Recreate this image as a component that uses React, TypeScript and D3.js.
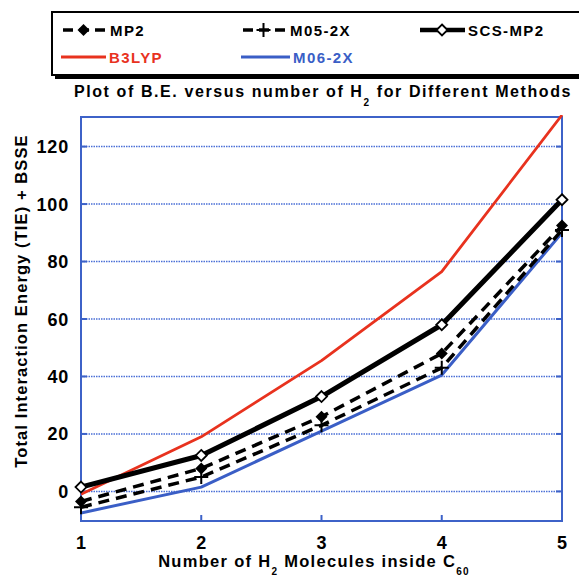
import React from 'react';
import * as d3 from 'd3';

const molecules = [1, 2, 3, 4, 5];
const mp2 = [-3.5, 8, 26, 48, 92.5];
const m052x = [-5.5, 5, 23, 43, 91];
const scsmp2 = [1.5, 12.5, 33, 58, 101.5];
const b3lyp = [-1, 19, 45.5, 76.5, 131];
const m062x = [-7.5, 1.5, 21, 40.5, 90];
const yTicks = [0, 20, 40, 60, 80, 100, 120];

const W = 579;
const H = 579;
const plot = { left: 81, right: 562, top: 117, bottom: 521 };
const axisBlue = '#3d62c8';
const font = '"Liberation Sans", Arial, sans-serif';

const x = d3.scaleLinear().domain([1, 5]).range([plot.left, plot.right]);
const y = d3.scaleLinear().domain([-10.3, 130.3]).range([plot.bottom, plot.top]);

const series = [
  { name: 'MP2', values: mp2, color: '#000', width: 3.5, dash: '11,7', marker: 'filled' },
  { name: 'M05-2X', values: m052x, color: '#000', width: 3.5, dash: '11,7', marker: 'plus' },
  { name: 'SCS-MP2', values: scsmp2, color: '#000', width: 5, dash: null, marker: 'open' },
  { name: 'B3LYP', values: b3lyp, color: '#e8321e', width: 2.8, dash: null, marker: null },
  { name: 'M06-2X', values: m062x, color: '#3a5ec6', width: 3, dash: null, marker: null },
];

const Marker = ({ type, cx, cy }: { type: string | null; cx: number; cy: number }) => {
  if (type === 'filled') {
    return <path d={`M${cx},${cy - 6}L${cx + 6},${cy}L${cx},${cy + 6}L${cx - 6},${cy}Z`} fill="#000" />;
  }
  if (type === 'open') {
    return <path d={`M${cx},${cy - 5.5}L${cx + 5.5},${cy}L${cx},${cy + 5.5}L${cx - 5.5},${cy}Z`} fill="#fff" stroke="#000" strokeWidth={1.8} />;
  }
  if (type === 'plus') {
    return <path d={`M${cx - 7},${cy}H${cx + 7}M${cx},${cy - 7}V${cy + 7}`} stroke="#000" strokeWidth={2} />;
  }
  return null;
};

export default function App() {
  const line = d3.line<number>().x((_, i) => x(molecules[i])).y((d) => y(d));

  const legendItems = [
    { s: series[0], lx: 63, ly: 30, tx: 108 },
    { s: series[1], lx: 243, ly: 30, tx: 288 },
    { s: series[2], lx: 420, ly: 30, tx: 468 },
    { s: series[3], lx: 61, ly: 57, tx: 109 },
    { s: series[4], lx: 241, ly: 57, tx: 293 },
  ];

  return (
    <svg width={W} height={H} style={{ position: 'absolute', left: 0, top: 0, background: '#fff' }} fontFamily={font} fontWeight="bold">
      <defs>
        <clipPath id="clip">
          <rect x={plot.left} y={plot.top - 2} width={plot.right - plot.left + 4} height={plot.bottom - plot.top + 2} />
        </clipPath>
      </defs>

      {/* legend box with shadow */}
      <rect x={55} y={15} width={540} height={64} fill="#000" />
      <rect x={52} y={12} width={538} height={63} fill="#fff" stroke="#000" strokeWidth={2} />
      {legendItems.map(({ s, lx, ly, tx }) => (
        <g key={s.name}>
          <line x1={lx} x2={tx - 3} y1={ly} y2={ly} stroke={s.color} strokeWidth={s.width === 5 ? 4.5 : s.width} strokeDasharray={s.dash ? '10,6' : undefined} />
          <Marker type={s.marker} cx={lx + (tx - lx) / 2 - 2} cy={ly} />
          <text x={tx + (s.dash ? 2 : 0)} y={ly + 5.5} fontSize={15} letterSpacing={1.4} fill={s.color}>
            {s.name}
          </text>
        </g>
      ))}

      {/* title */}
      <text x={323} y={97} fontSize={16} letterSpacing={1.6} textAnchor="middle">
        Plot of B.E. versus number of H<tspan dy={9} fontSize={10}>2</tspan>
        <tspan dy={-9}> for Different Methods</tspan>
      </text>

      {/* grid */}
      {yTicks.map((t) => (
        <g key={t}>
          <line x1={plot.left} x2={plot.right} y1={y(t)} y2={y(t)} stroke="#4a6fd6" strokeWidth={1.5} strokeDasharray="1.5,1" />
          <line x1={plot.left} x2={plot.left + 6} y1={y(t)} y2={y(t)} stroke={axisBlue} strokeWidth={2} />
          <line x1={plot.right - 6} x2={plot.right} y1={y(t)} y2={y(t)} stroke={axisBlue} strokeWidth={2} />
          <text x={plot.left - 12} y={y(t) + 6.5} fontSize={18} letterSpacing={0.8} textAnchor="end">
            {t}
          </text>
        </g>
      ))}
      {molecules.map((m) => (
        <g key={m}>
          <line x1={x(m)} x2={x(m)} y1={plot.bottom} y2={plot.bottom - 6} stroke={axisBlue} strokeWidth={2} />
          <text x={x(m)} y={plot.bottom + 28} fontSize={18} textAnchor="middle">
            {m}
          </text>
        </g>
      ))}
      <rect x={plot.left} y={plot.top} width={plot.right - plot.left} height={plot.bottom - plot.top} fill="none" stroke={axisBlue} strokeWidth={2} />

      {/* series */}
      <g clipPath="url(#clip)">
        {[series[3], series[4], series[0], series[1], series[2]].map((s) => (
          <path key={s.name} d={line(s.values) || ''} fill="none" stroke={s.color} strokeWidth={s.width} strokeDasharray={s.dash || undefined} strokeLinejoin="round" />
        ))}
      </g>
      {series.map((s) =>
        s.values.map((v, i) => <Marker key={s.name + i} type={s.marker} cx={x(molecules[i])} cy={y(v)} />)
      )}

      {/* axis labels */}
      <text x={314} y={567} fontSize={16.5} letterSpacing={1.3} textAnchor="middle">
        Number of H<tspan dy={8} fontSize={10}>2</tspan>
        <tspan dy={-8}> Molecules inside C</tspan>
        <tspan dy={8} fontSize={10}>60</tspan>
      </text>
      <text transform={`translate(27,${(plot.top + plot.bottom) / 2 - 18}) rotate(-90)`} fontSize={16.5} letterSpacing={1.1} textAnchor="middle">
        Total Interaction Energy (TIE) + BSSE
      </text>
    </svg>
  );
}
